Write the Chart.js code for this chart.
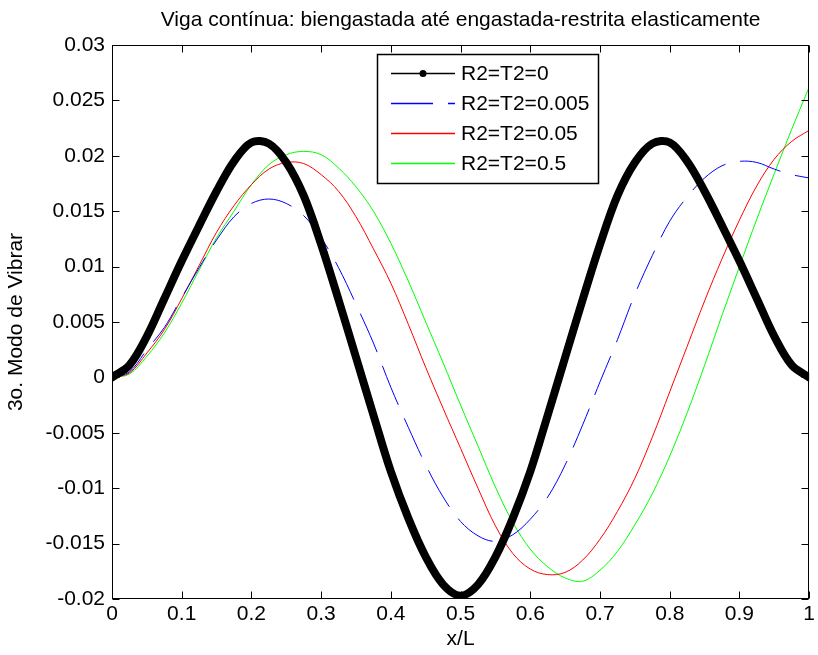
<!DOCTYPE html>
<html>
<head>
<meta charset="utf-8">
<title>Viga contínua - 3o. modo</title>
<script src="https://cdn.jsdelivr.net/npm/chart.js@4"></script>
<style>
  html, body { margin: 0; padding: 0; background: #fff; }
  #wrap { width: 818px; height: 655px; }
</style>
</head>
<body>
<div id="wrap"><canvas id="modo"></canvas></div>
<script>
// posicoes x/L
const xL = [0, 0.025, 0.05, 0.075, 0.1, 0.125, 0.15, 0.175, 0.2, 0.225,
  0.25, 0.275, 0.3, 0.325, 0.35, 0.375, 0.4, 0.425, 0.45, 0.475,
  0.5, 0.525, 0.55, 0.575, 0.6, 0.625, 0.65, 0.675, 0.7, 0.725,
  0.75, 0.775, 0.8, 0.825, 0.85, 0.875, 0.9, 0.925, 0.95, 0.975, 1];

// R2=T2=0 (biengastada)
const modoR0 = [0, 0.0011, 0.0037, 0.0071, 0.0105, 0.0137, 0.0168, 0.0195, 0.0212, 0.0211,
  0.0194, 0.0164, 0.0120, 0.0070, 0.0018, -0.0034, -0.0085, -0.0127, -0.0162, -0.0187,
  -0.0197, -0.0187, -0.0162, -0.0127, -0.0085, -0.0034, 0.0018, 0.0070, 0.0120, 0.0164,
  0.0194, 0.0211, 0.0212, 0.0195, 0.0168, 0.0137, 0.0105, 0.0071, 0.0037, 0.0011, 0];

// R2=T2=0.005
const modoR005 = [0, 0.0005, 0.0025, 0.0045, 0.0072, 0.0099, 0.0124, 0.0145, 0.0157, 0.0161,
  0.0157, 0.0146, 0.0126, 0.0099, 0.0066, 0.0031, -0.0009, -0.0045, -0.0079, -0.0108,
  -0.0130, -0.0143, -0.0148, -0.0142, -0.0128, -0.0108, -0.0079, -0.0043, -0.0004, 0.0034,
  0.0075, 0.0110, 0.0141, 0.0163, 0.0180, 0.0191, 0.0195, 0.0194, 0.0188, 0.0183, 0.0180];

// R2=T2=0.05
const modoR05 = [0, 0.0004, 0.0022, 0.0043, 0.0071, 0.0101, 0.0131, 0.0155, 0.0174, 0.0188,
  0.0194, 0.0193, 0.0183, 0.0168, 0.0145, 0.0116, 0.0085, 0.0048, 0.0009, -0.0028,
  -0.0064, -0.0100, -0.0134, -0.0159, -0.0173, -0.0178, -0.0176, -0.0165, -0.0146, -0.0121,
  -0.0091, -0.0054, -0.0013, 0.0028, 0.0069, 0.0107, 0.0142, 0.0173, 0.0197, 0.0213, 0.0223];

// R2=T2=0.5
const modoR5 = [0, 0.0003, 0.0019, 0.0040, 0.0067, 0.0097, 0.0126, 0.0150, 0.0174, 0.0192,
  0.0201, 0.0204, 0.0201, 0.0189, 0.0172, 0.0150, 0.0121, 0.0087, 0.0050, 0.0013,
  -0.0025, -0.0062, -0.0099, -0.0131, -0.0155, -0.0171, -0.0181, -0.0184, -0.0174, -0.0157,
  -0.0133, -0.0105, -0.0071, -0.0032, 0.0011, 0.0056, 0.0100, 0.0143, 0.0184, 0.0224, 0.0262];

const legendas = ['R2=T2=0', 'R2=T2=0.005', 'R2=T2=0.05', 'R2=T2=0.5'];
const xTicks = [0, 0.1, 0.2, 0.3, 0.4, 0.5, 0.6, 0.7, 0.8, 0.9, 1];
const yTicks = [-0.02, -0.015, -0.01, -0.005, 0, 0.005, 0.01, 0.015, 0.02, 0.025, 0.03];

const FONTE = "'Liberation Sans', Arial, Helvetica, sans-serif";
const TAM = 21;

const pontos = serie => xL.map((x, i) => ({ x: x, y: serie[i] }));

// eixos estilo matlab: caixa fechada, ticks para dentro, legenda no topo
const caixaMatlab = {
  id: 'caixaMatlab',
  afterDatasetsDraw(chart) {
    const { ctx, chartArea: a, scales } = chart;
    const L = Math.round(a.left) + 0.5, R = Math.round(a.right) - 0.5;
    const T = Math.round(a.top) + 0.5, B = Math.round(a.bottom) - 0.5;
    ctx.save();
    ctx.strokeStyle = '#000';
    ctx.lineWidth = 1;
    ctx.strokeRect(L, T, R - L, B - T);
    const tl = 7;
    ctx.beginPath();
    xTicks.forEach(v => {
      const px = Math.round(scales.x.getPixelForValue(v)) + 0.5;
      ctx.moveTo(px, B); ctx.lineTo(px, B - tl);
      ctx.moveTo(px, T); ctx.lineTo(px, T + tl);
    });
    yTicks.forEach(v => {
      const py = Math.round(scales.y.getPixelForValue(v)) + 0.5;
      ctx.moveTo(L, py); ctx.lineTo(L + tl, py);
      ctx.moveTo(R, py); ctx.lineTo(R - tl, py);
    });
    ctx.stroke();

    // titulo
    ctx.fillStyle = '#000';
    ctx.font = TAM + 'px ' + FONTE;
    ctx.textAlign = 'center';
    ctx.textBaseline = 'middle';
    ctx.fillText('Viga contínua: biengastada até engastada-restrita elasticamente', (a.left + a.right) / 2, 20);

    // legenda
    const bx = 377.5, by = 54.5, bw = 221, bh = 129;
    ctx.fillStyle = '#fff';
    ctx.fillRect(bx, by, bw, bh);
    ctx.strokeStyle = '#000';
    ctx.lineWidth = 1.5;
    ctx.strokeRect(bx, by, bw, bh);
    const linhas = [73, 103, 133, 163];
    chart.data.datasets.forEach((ds, i) => {
      const y = linhas[i];
      ctx.save();
      ctx.strokeStyle = ds.borderColor;
      ctx.lineWidth = 1.3;
      ctx.setLineDash(ds.borderDash || []);
      ctx.beginPath();
      ctx.moveTo(391, y + 0.5);
      ctx.lineTo(455, y + 0.5);
      ctx.stroke();
      ctx.restore();
      if (i === 0) {
        ctx.beginPath();
        ctx.arc(423, y + 0.5, 3.5, 0, Math.PI * 2);
        ctx.fillStyle = '#000';
        ctx.fill();
      }
      ctx.fillStyle = '#000';
      ctx.font = TAM + 'px ' + FONTE;
      ctx.textAlign = 'left';
      ctx.textBaseline = 'middle';
      ctx.fillText(legendas[i], 461, y + 1);
    });
    ctx.restore();
  }
};

const ctx = document.getElementById('modo').getContext('2d');
new Chart(ctx, {
  type: 'line',
  data: {
    datasets: [
      { label: legendas[0], data: pontos(modoR0), borderColor: '#000000', borderWidth: 8,
        borderCapStyle: 'round', borderJoinStyle: 'round' },
      { label: legendas[1], data: pontos(modoR005), borderColor: '#0000ff', borderWidth: 1,
        borderDash: [42, 15] },
      { label: legendas[2], data: pontos(modoR05), borderColor: '#ff0000', borderWidth: 1 },
      { label: legendas[3], data: pontos(modoR5), borderColor: '#00ff00', borderWidth: 1 }
    ]
  },
  options: {
    responsive: true,
    maintainAspectRatio: false,
    animation: false,
    events: [],
    elements: { point: { radius: 0 }, line: { fill: false, tension: 0.35 } },
    layout: { padding: { top: 45, right: 3, left: 0, bottom: 0 } },
    plugins: { legend: { display: false }, tooltip: { enabled: false }, title: { display: false } },
    scales: {
      x: {
        type: 'linear', min: 0, max: 1,
        grid: { display: false, drawTicks: false },
        border: { display: false },
        afterFit: s => { s.height = 56; },
        afterBuildTicks: s => { s.ticks = xTicks.map(v => ({ value: v })); },
        ticks: {
          color: '#000', padding: 3, maxRotation: 0,
          font: { family: FONTE, size: TAM },
          callback: v => String(+v.toFixed(4))
        },
        title: { display: true, text: 'x/L', color: '#000',
          font: { family: FONTE, size: TAM }, padding: { top: 0, bottom: 3 } }
      },
      y: {
        type: 'linear', min: -0.02, max: 0.03,
        grid: { display: false, drawTicks: false },
        border: { display: false },
        afterFit: s => { s.width = 112; },
        afterBuildTicks: s => { s.ticks = yTicks.map(v => ({ value: v })); },
        ticks: {
          color: '#000', padding: 7,
          font: { family: FONTE, size: TAM },
          callback: v => String(+v.toFixed(4))
        },
        title: { display: true, text: '3o. Modo de Vibrar', color: '#000',
          font: { family: FONTE, size: TAM }, padding: { top: 4, bottom: 0 } }
      }
    }
  },
  plugins: [caixaMatlab]
});
</script>
</body>
</html>
